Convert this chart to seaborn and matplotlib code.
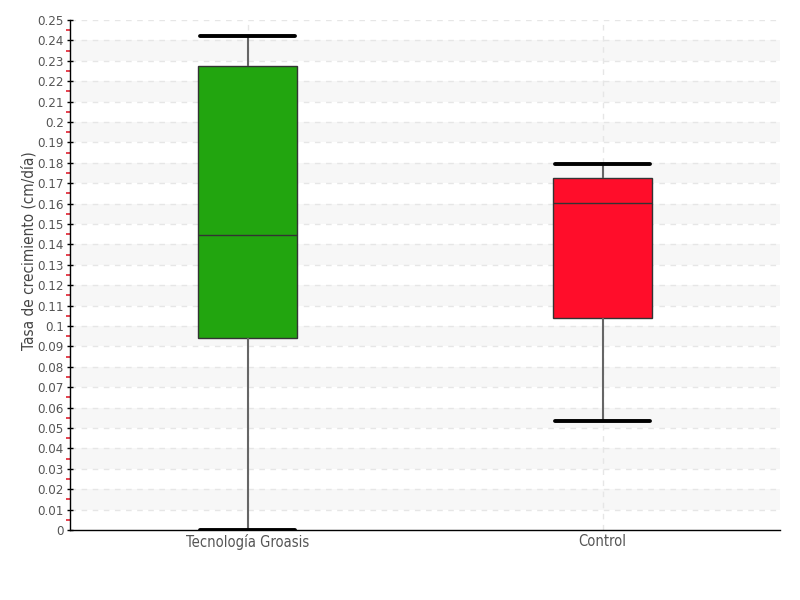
import numpy as np
import pandas as pd
import matplotlib
matplotlib.use('Agg')
import matplotlib.pyplot as plt
import seaborn as sns
from matplotlib.ticker import MultipleLocator, FuncFormatter

# Categorías y estadísticas (mín, Q1, mediana, Q3, máx)
grupos = ['Tecnología Groasis', 'Control']
groasis = [0.0, 0.094, 0.1445, 0.2275, 0.2422]
control = [0.0534, 0.1039, 0.1603, 0.1725, 0.1794]
colores = ['#22A50F', '#FF0D2A']

df = pd.DataFrame({
    'grupo': [grupos[0]] * len(groasis) + [grupos[1]] * len(control),
    'tasa': groasis + control,
})

sns.set_style('white')
plt.rcParams['font.family'] = ['DejaVu Sans']
plt.rcParams['font.stretch'] = 'condensed'

fig = plt.figure(figsize=(8, 6), dpi=100)
ax = fig.add_axes([0.0875, 0.1167, 0.8875, 0.85])

# bandas alternas y cuadrícula
for lo in np.arange(0.01, 0.25, 0.02):
    ax.axhspan(lo, lo + 0.01, color='#f7f7f7', zorder=0, lw=0)
for v in np.arange(0.01, 0.2501, 0.01):
    ax.axhline(v, color='#e6e6e6', lw=1, ls=(0, (4, 4)), zorder=0.5)
for xp in range(len(grupos)):
    ax.axvline(xp, color='#e6e6e6', lw=1, ls=(0, (4, 4)), zorder=0.5)

sns.boxplot(data=df, x='grupo', y='tasa', hue='grupo', palette=colores,
            saturation=1, whis=np.inf, width=0.28, legend=False, ax=ax,
            linecolor='#333333', linewidth=1,
            whiskerprops={'color': '#666666', 'linewidth': 1.5},
            capprops={'color': 'black', 'linewidth': 2.8},
            medianprops={'color': '#333333', 'linewidth': 1})

# ancho de los topes
for ln in ax.lines:
    x = ln.get_xdata()
    if len(x) == 2 and x[0] != x[1] and ln.get_linewidth() >= 2.5:
        c = (x[0] + x[1]) / 2
        ln.set_xdata([c - 0.135, c + 0.135])

ax.set_xlim(-0.5, 1.5)
ax.set_ylim(0, 0.25)
ax.yaxis.set_major_locator(MultipleLocator(0.01))
ax.yaxis.set_minor_locator(MultipleLocator(0.005))
ax.yaxis.set_major_formatter(FuncFormatter(lambda v, p: f'{round(v, 3):g}'))

ax.tick_params(axis='y', which='major', direction='inout', length=5, width=1,
               color='black', labelsize=9.5, labelcolor='#555555', pad=2, left=True)
ax.tick_params(axis='y', which='minor', direction='out', length=3, width=1.2,
               color='#e02030', left=True)
ax.tick_params(axis='x', length=0, labelsize=10.5, labelcolor='#555555', pad=3)

for s in ['top', 'right']:
    ax.spines[s].set_visible(False)
for s in ['left', 'bottom']:
    ax.spines[s].set_color('black')
    ax.spines[s].set_linewidth(1)

ax.set_xlabel('')
ax.set_ylabel('Tasa de crecimiento (cm/día)', fontsize=11, color='#444444')
ax.yaxis.set_label_coords(-0.047, 0.547)

fig.savefig('out.png', dpi=100)
